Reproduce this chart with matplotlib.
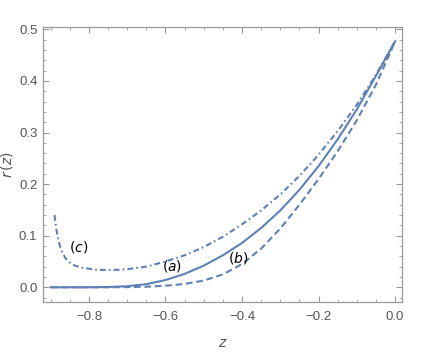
import matplotlib
matplotlib.use("Agg")
import matplotlib.pyplot as plt
from matplotlib.ticker import MultipleLocator

z_a = [-0.9, -0.85, -0.8, -0.75, -0.7, -0.65, -0.6, -0.55, -0.5, -0.45, -0.4,
       -0.35, -0.3, -0.25, -0.2, -0.15, -0.1, -0.05, 0.0]
r_a = [0.000, 0.000, 0.000, 0.0005, 0.002, 0.006, 0.014, 0.026, 0.042, 0.062, 0.086,
       0.115, 0.149, 0.189, 0.235, 0.287, 0.345, 0.410, 0.477]

z_b = [-0.9, -0.85, -0.8, -0.75, -0.7, -0.65, -0.6, -0.55, -0.5, -0.45, -0.4,
       -0.35, -0.3, -0.25, -0.2, -0.15, -0.1, -0.05, 0.0]
r_b = [0.000, 0.000, 0.000, 0.000, 0.0003, 0.001, 0.003, 0.0065, 0.013, 0.025, 0.045,
       0.075, 0.114, 0.160, 0.210, 0.264, 0.324, 0.393, 0.477]

z_c = [-0.89, -0.885, -0.88, -0.875, -0.87, -0.86, -0.85, -0.84, -0.82, -0.8, -0.78,
       -0.76, -0.74, -0.72, -0.7, -0.65, -0.6, -0.55, -0.5, -0.45, -0.4, -0.35,
       -0.3, -0.25, -0.2, -0.15, -0.1, -0.05, 0.0]
r_c = [0.140, 0.112, 0.092, 0.078, 0.068, 0.055, 0.048, 0.043, 0.038, 0.036, 0.034,
       0.0335, 0.0335, 0.034, 0.035, 0.040, 0.050, 0.062, 0.078, 0.098, 0.122, 0.149,
       0.180, 0.216, 0.257, 0.303, 0.354, 0.412, 0.477]

labels = ["a", "b", "c"]
label_pos = [(-0.583, 0.041), (-0.411, 0.057), (-0.826, 0.078)]

color = "#5E81B5"
gray = "#999999"
tcol = "#555555"

fig = plt.figure(figsize=(4.25, 3.54), dpi=100)
ax = fig.add_axes([0.1012, 0.1477, 0.8448, 0.7752])

ax.plot(z_a, r_a, color=color, lw=1.5)
ax.plot(z_b, r_b, color=color, lw=1.5, dashes=(3.2, 1.8))
ax.plot(z_c, r_c, color=color, lw=1.5, dashes=(2.8, 1.5, 0.8, 1.5))

for lab, (x, y) in zip(labels, label_pos):
    ax.text(x, y, "(" + r"$\it{" + lab + "}$" + ")", ha="center", va="center",
            fontsize=10, color="black", family="DejaVu Sans")

ax.set_xlim(-0.92, 0.018)
ax.set_ylim(-0.028, 0.504)

ax.xaxis.set_major_locator(MultipleLocator(0.2))
ax.xaxis.set_minor_locator(MultipleLocator(0.05))
ax.yaxis.set_major_locator(MultipleLocator(0.1))
ax.yaxis.set_minor_locator(MultipleLocator(0.02))
ax.xaxis.set_major_formatter(plt.FuncFormatter(lambda v, p: f"{v:.1f}".replace("-", "\u2212")))
ax.yaxis.set_major_formatter(plt.FuncFormatter(lambda v, p: f"{v:.1f}"))

for s in ax.spines.values():
    s.set_color(gray)
    s.set_linewidth(0.9)
ax.tick_params(which="both", direction="in", top=True, right=True, color=gray,
               labelcolor=tcol, labelsize=9.5)
ax.tick_params(which="major", length=4, width=0.8)
ax.tick_params(axis="x", which="major", pad=7)
ax.tick_params(axis="y", which="major", pad=4)
ax.tick_params(which="minor", length=2.2, width=0.6)
for t in ax.get_xticklabels() + ax.get_yticklabels():
    t.set_family("Liberation Sans")

ax.set_xlabel(r"$z$", color=tcol, fontsize=10, labelpad=9)
ax.set_ylabel(r"$r\,(z)$", color=tcol, fontsize=10, labelpad=3)

fig.savefig("out.png", dpi=100)
